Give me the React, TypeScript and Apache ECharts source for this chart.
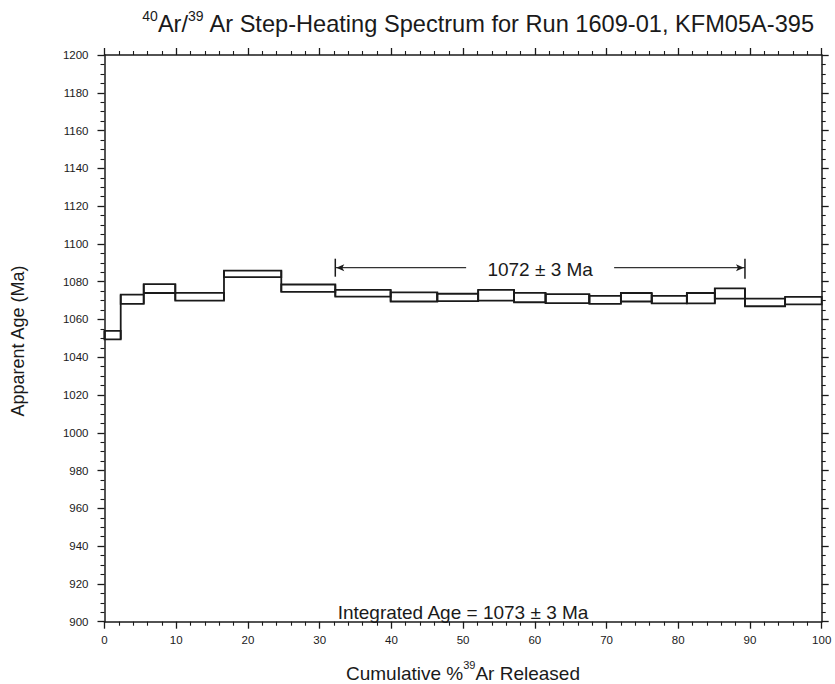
import React, { useEffect, useRef } from "react";
import * as echarts from "echarts";

// Step boundaries (cumulative % 39Ar released)
const stepEdges = [0, 2.26, 5.47, 9.87, 16.66, 24.65, 32.18, 39.9, 46.4, 52.1, 57.1, 61.5, 67.6, 72.0, 76.3, 81.2, 85.1, 89.3, 94.9, 100];
// Lower and upper limits of each step's apparent age (Ma)
const ageLow = [1049.5, 1068.3, 1074.0, 1070.0, 1082.4, 1074.6, 1072.1, 1069.5, 1069.7, 1070.0, 1069.1, 1068.6, 1068.3, 1069.5, 1068.5, 1068.5, 1071.0, 1067.0, 1068.0];
const ageHigh = [1054.0, 1073.1, 1078.7, 1074.1, 1085.9, 1078.5, 1075.7, 1074.3, 1073.6, 1075.7, 1074.1, 1073.4, 1072.5, 1074.0, 1072.5, 1074.0, 1076.5, 1071.0, 1072.0];
// Plateau
const plateauStart = 32.18;
const plateauEnd = 89.3;
const plateauLabel = "1072 ± 3 Ma";
const integratedLabel = "Integrated Age = 1073 ± 3 Ma";
// Axes
const xMin = 0, xMax = 100, xInterval = 10;
const yMin = 900, yMax = 1200, yInterval = 20;

const FONT = "Liberation Sans, Arial, Helvetica, sans-serif";
const INK = "#1a1a1a";

export default function App() {
  const ref = useRef<HTMLDivElement>(null);
  useEffect(() => {
    if (!ref.current) return;
    const chart = echarts.init(ref.current, null, { renderer: "svg" });
    const stepData = ageLow.map((lo, i) => [
      stepEdges[i], stepEdges[i + 1], lo, ageHigh[i],
      i > 0 ? ageLow[i - 1] : lo, i > 0 ? ageHigh[i - 1] : ageHigh[i],
    ]);
    const arrowAge = 1087.4;

    const axisCommon = {
      axisLine: { show: true, onZero: false, lineStyle: { color: INK, width: 1.5 } },
      axisTick: { show: true, inside: false, length: 7, lineStyle: { color: INK, width: 1.3 } },
      minorTick: { show: true, length: 4, lineStyle: { color: INK, width: 1.1 } },
      splitLine: { show: false },
    };
    const plain = (v: number) => String(v);

    chart.setOption({
      animation: false,
      backgroundColor: "#fff",
      grid: { left: 104.5, right: 13.3, top: 55, bottom: 62.3, containLabel: false },
      xAxis: [
        {
          type: "value", min: xMin, max: xMax, interval: xInterval, position: "bottom",
          ...axisCommon,
          minorTick: { ...axisCommon.minorTick, splitNumber: 5 },
          axisLabel: { color: INK, fontSize: 11.5, fontFamily: FONT, margin: 12, formatter: plain },
        },
        {
          type: "value", min: xMin, max: xMax, interval: xInterval, position: "top",
          ...axisCommon,
          minorTick: { ...axisCommon.minorTick, splitNumber: 5 },
          axisLabel: { show: false },
        },
      ],
      yAxis: [
        {
          type: "value", min: yMin, max: yMax, interval: yInterval, position: "left",
          ...axisCommon,
          minorTick: { ...axisCommon.minorTick, splitNumber: 4 },
          axisLabel: { color: INK, fontSize: 11.5, fontFamily: FONT, margin: 16, formatter: plain },
        },
        {
          type: "value", min: yMin, max: yMax, interval: yInterval, position: "right",
          ...axisCommon,
          minorTick: { ...axisCommon.minorTick, splitNumber: 4 },
          axisLabel: { show: false },
        },
      ],
      series: [
        {
          type: "custom",
          xAxisIndex: 0, yAxisIndex: 0,
          encode: { x: [0, 1], y: [2, 3] },
          data: stepData,
          silent: true,
          renderItem: (params: any, api: any) => {
            const x0 = api.value(0), x1 = api.value(1);
            const lo = api.value(2), hi = api.value(3);
            const plo = api.value(4), phi = api.value(5);
            const a = api.coord([x0, hi]);
            const b = api.coord([x1, lo]);
            const c0 = api.coord([x0, Math.min(lo, plo)]);
            const c1 = api.coord([x0, Math.max(hi, phi)]);
            const st = { fill: "none", stroke: INK, lineWidth: 1.8 };
            return {
              type: "group",
              children: [
                { type: "rect", shape: { x: a[0], y: a[1], width: b[0] - a[0], height: b[1] - a[1] }, style: st },
                { type: "line", shape: { x1: c0[0], y1: c0[1], x2: c1[0], y2: c1[1] }, style: { stroke: INK, lineWidth: 1.8 } },
              ],
            };
          },
        },
        {
          type: "custom",
          xAxisIndex: 0, yAxisIndex: 0,
          data: [[plateauStart, plateauEnd, arrowAge]],
          silent: true,
          renderItem: (params: any, api: any) => {
            const s = api.coord([api.value(0), api.value(2)]);
            const e = api.coord([api.value(1), api.value(2)]);
            const y = s[1];
            const cx = (s[0] + e[0]) / 2;
            const gap = 74;
            const lw = { stroke: "#333", lineWidth: 1.3 };
            return {
              type: "group",
              children: [
                { type: "line", shape: { x1: s[0], y1: y, x2: cx - gap, y2: y }, style: lw },
                { type: "line", shape: { x1: cx + gap, y1: y, x2: e[0], y2: y }, style: lw },
                { type: "line", shape: { x1: s[0], y1: y - 9, x2: s[0], y2: y + 9 }, style: { stroke: INK, lineWidth: 1.5 } },
                { type: "line", shape: { x1: e[0], y1: y - 9, x2: e[0], y2: y + 11 }, style: { stroke: INK, lineWidth: 1.5 } },
                { type: "polygon", shape: { points: [[s[0] + 1, y], [s[0] + 9, y - 3.5], [s[0] + 7, y], [s[0] + 9, y + 3.5]] }, style: { fill: INK } },
                { type: "polygon", shape: { points: [[e[0] - 1, y], [e[0] - 9, y - 3.5], [e[0] - 7, y], [e[0] - 9, y + 3.5]] }, style: { fill: INK } },
                {
                  type: "text",
                  x: cx, y: y + 2,
                  style: { text: plateauLabel, fill: INK, font: `19px ${FONT}`, align: "center", verticalAlign: "middle", textAlign: "center", textVerticalAlign: "middle" },
                },
              ],
            };
          },
        },
      ],
      graphic: [
        {
          type: "text",
          x: 478.5, y: 22,
          style: {
            text: "{sup|40}{m|Ar/}{sup|39}{m| Ar Step-Heating Spectrum for Run 1609-01, KFM05A-395}",
            fill: INK,
            align: "center", verticalAlign: "middle",
            rich: {
              m: { fontSize: 23.6, fontFamily: FONT, fill: INK, lineHeight: 27, verticalAlign: "bottom" },
              sup: { fontSize: 14, fontFamily: FONT, fill: INK, lineHeight: 27, verticalAlign: "top" },
            },
          },
        },
        {
          type: "text",
          x: 463, y: 612,
          style: { text: integratedLabel, fill: INK, font: `19px ${FONT}`, align: "center", verticalAlign: "middle" },
        },
        {
          type: "text",
          x: 463, y: 671,
          style: {
            text: "{m|Cumulative %}{sup|39}{m|Ar Released}",
            fill: INK,
            align: "center", verticalAlign: "middle",
            rich: {
              m: { fontSize: 19, fontFamily: FONT, fill: INK, lineHeight: 23, verticalAlign: "bottom" },
              sup: { fontSize: 11, fontFamily: FONT, fill: INK, lineHeight: 23, verticalAlign: "top" },
            },
          },
        },
        {
          type: "text",
          x: 18, y: 341,
          rotation: Math.PI / 2,
          style: { text: "Apparent Age (Ma)", fill: INK, font: `18px ${FONT}`, align: "center", verticalAlign: "middle" },
        },
      ],
    });
    return () => chart.dispose();
  }, []);
  return <div ref={ref} style={{ position: "fixed", left: 0, top: 0, width: 835, height: 684, background: "#fff" }} />;
}
